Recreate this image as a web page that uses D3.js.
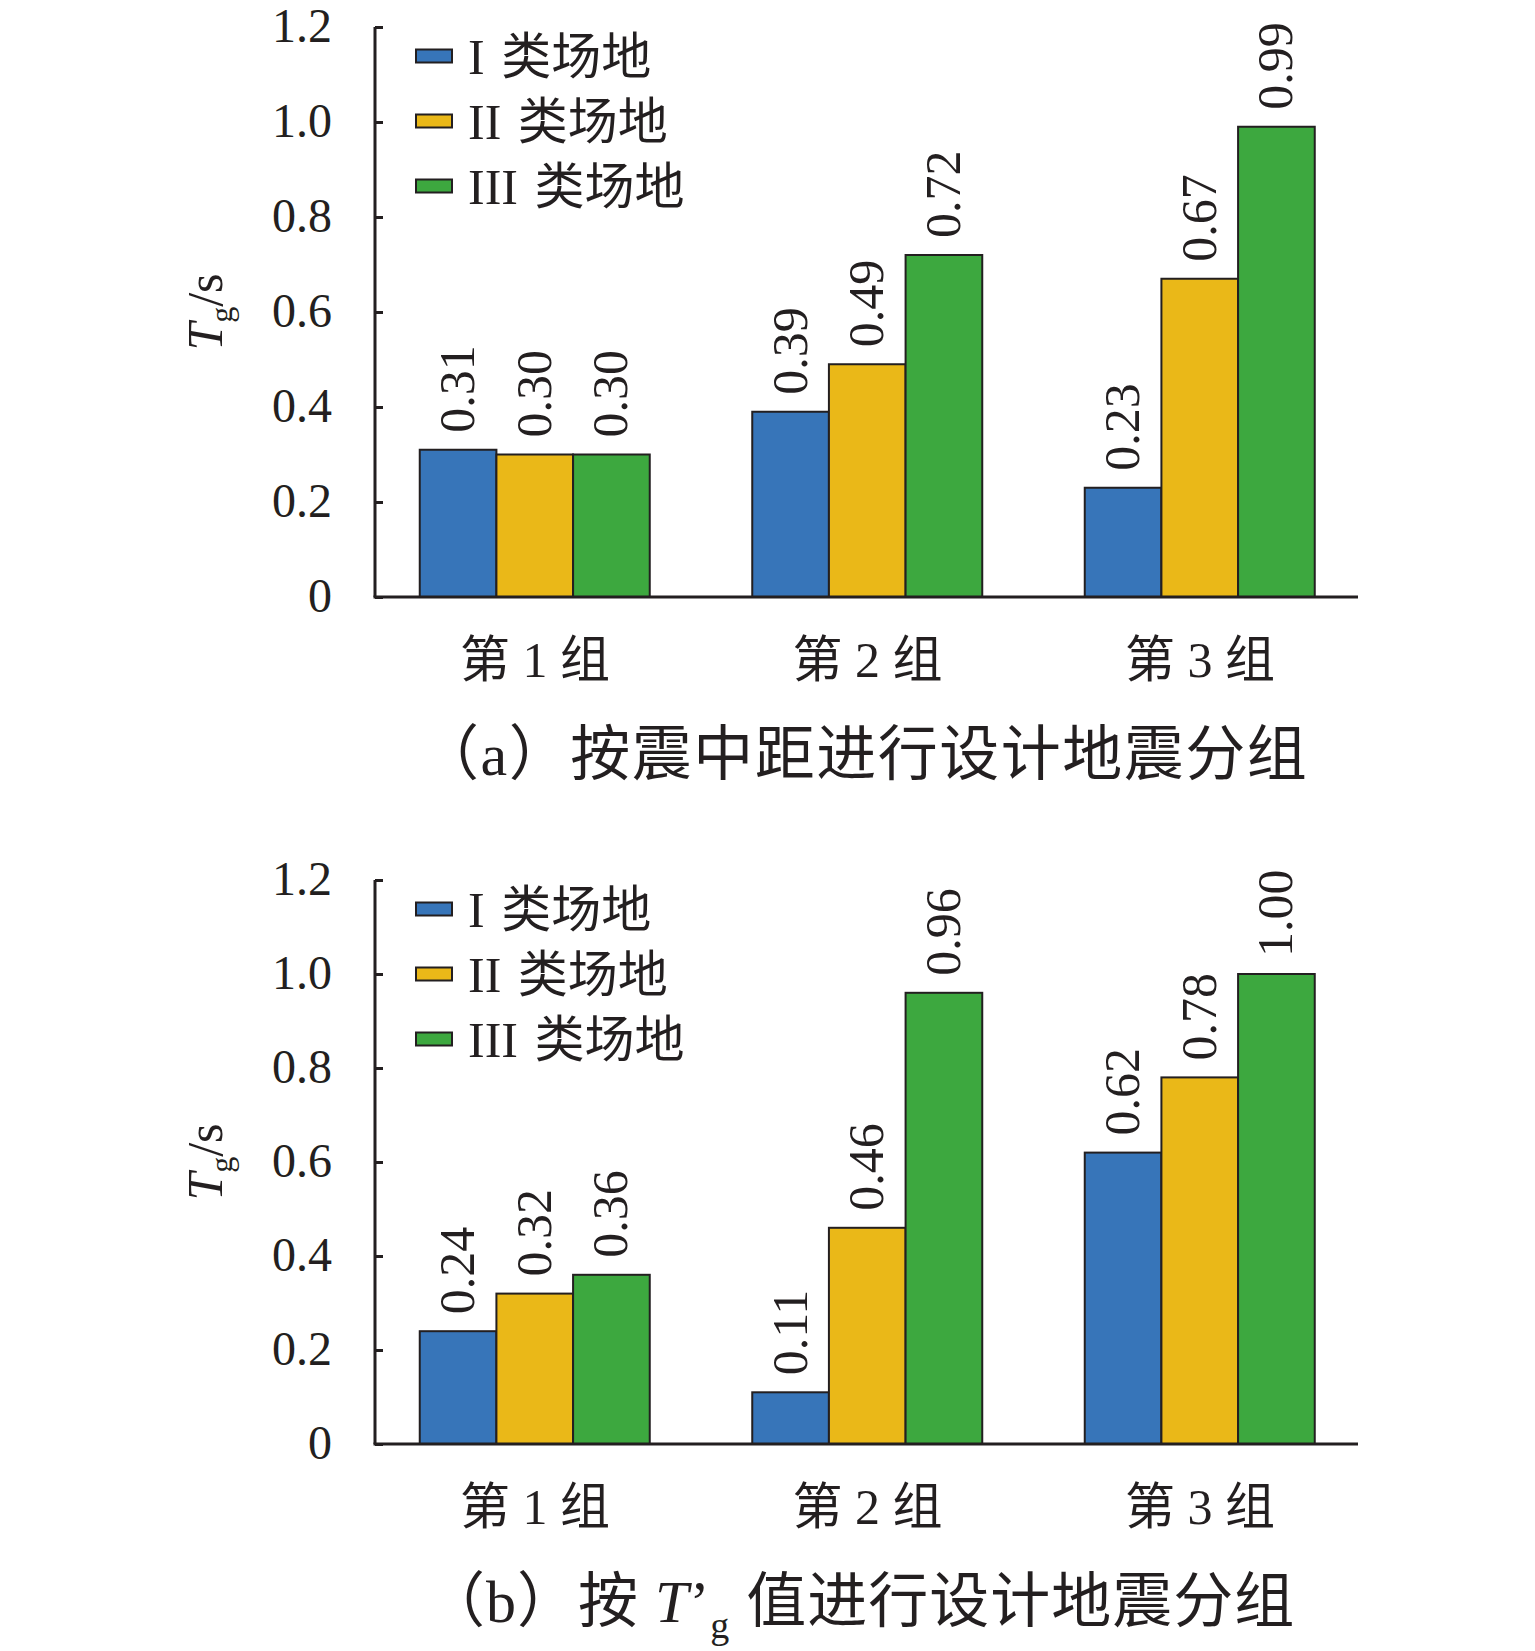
<!DOCTYPE html>
<html>
<head>
<meta charset="utf-8">
<script src="https://cdn.jsdelivr.net/npm/d3@7"></script>
<style>
  body { margin: 0; background: #fff; }
  svg text { font-family: "Liberation Serif", "Noto Sans CJK SC", serif; fill: #231f20; }
</style>
</head>
<body>
<svg id="chart" width="1535" height="1651"></svg>
<script>
'use strict';

// categories & series
const groups = ['第 1 组', '第 2 组', '第 3 组'];
const sites = ['I 类场地', 'II 类场地', 'III 类场地'];
const siteColors = ['#3775b9', '#eab818', '#3da83f'];
const yTicks = [0, 0.2, 0.4, 0.6, 0.8, 1.0, 1.2];

// (a) grouping by epicentral distance
const siteI_a = [0.31, 0.39, 0.23];
const siteII_a = [0.30, 0.49, 0.67];
const siteIII_a = [0.30, 0.72, 0.99];

// (b) grouping by T'g value
const siteI_b = [0.24, 0.11, 0.62];
const siteII_b = [0.32, 0.46, 0.78];
const siteIII_b = [0.36, 0.96, 1.00];

const svg = d3.select('#chart');
const axisX = 375, axisRight = 1358;

function drawPanel(series, yTop, yZero) {
  const g = svg.append('g');

  const y = d3.scaleLinear().domain([0, 1.2]).range([yZero, yTop]);
  const x0 = d3.scaleBand().domain(groups).range([368.75, 1366.25]);
  const x1 = d3.scaleBand().domain(sites).range([51, 281]);

  // rows: one per group
  const rows = groups.map((grp, i) => ({
    grp: grp,
    vals: sites.map((s, k) => ({ site: s, k: k, v: series[k][i] }))
  }));

  const grpSel = g.selectAll('.grp')
    .data(rows)
    .enter().append('g')
      .attr('class', 'grp')
      .attr('transform', d => 'translate(' + x0(d.grp) + ',0)');

  grpSel.selectAll('rect')
    .data(d => d.vals)
    .enter().append('rect')
      .attr('x', d => x1(d.site))
      .attr('y', d => y(d.v))
      .attr('width', x1.bandwidth())
      .attr('height', d => yZero - y(d.v))
      .attr('fill', d => siteColors[d.k])
      .attr('stroke', '#231f20')
      .attr('stroke-width', 2);

  grpSel.selectAll('.val')
    .data(d => d.vals)
    .enter().append('text')
      .attr('class', 'val')
      .attr('transform', d => 'translate(' + (x1(d.site) + x1.bandwidth() / 2) + ',' + (y(d.v) - 17) + ') rotate(-90)')
      .attr('dy', '0.32em')
      .style('font-size', '50px')
      .text(d => d.v.toFixed(2));

  // y axis with inward ticks
  const yAxis = d3.axisRight(y).tickValues(yTicks).tickSize(8).tickFormat('');
  const ya = g.append('g')
    .attr('transform', 'translate(' + axisX + ',0)')
    .call(yAxis);
  ya.select('.domain').remove();
  ya.selectAll('.tick line').attr('stroke', '#231f20').attr('stroke-width', 3);

  g.append('line')
    .attr('x1', axisX).attr('x2', axisX)
    .attr('y1', y(0)).attr('y2', y(1.2))
    .attr('stroke', '#231f20').attr('stroke-width', 3);

  g.selectAll('.ytl')
    .data(yTicks)
    .enter().append('text')
      .attr('class', 'ytl')
      .attr('x', 332)
      .attr('y', d => y(d))
      .attr('dy', '0.32em')
      .attr('text-anchor', 'end')
      .style('font-size', '48px')
      .text(d => d === 0 ? '0' : d.toFixed(1));

  // x baseline
  g.append('line')
    .attr('x1', axisX - 1.5).attr('x2', axisRight)
    .attr('y1', yZero).attr('y2', yZero)
    .attr('stroke', '#231f20').attr('stroke-width', 3);

  g.selectAll('.xtl')
    .data(groups)
    .enter().append('text')
      .attr('class', 'xtl')
      .attr('x', d => x0(d) + x0.bandwidth() / 2)
      .attr('y', yZero + 80)
      .attr('text-anchor', 'middle')
      .style('font-size', '50px')
      .text(d => d);

  // y title  T_g/s
  const yt = g.append('text')
    .attr('transform', 'translate(222,' + ((yTop + yZero) / 2) + ') rotate(-90)')
    .attr('text-anchor', 'middle')
    .style('font-size', '50px');
  yt.append('tspan').style('font-style', 'italic').text('T');
  yt.append('tspan').attr('dy', 10).style('font-size', '32px').text('g');
  yt.append('tspan').attr('dy', -10).text('/s');

  // legend
  const leg = g.selectAll('.leg')
    .data(sites)
    .enter().append('g')
      .attr('class', 'leg')
      .attr('transform', (d, i) => 'translate(416,' + (yTop + 29 + i * 65) + ')');
  leg.append('rect')
    .attr('x', 0).attr('y', -6.5)
    .attr('width', 36).attr('height', 13)
    .attr('fill', (d, i) => siteColors[i])
    .attr('stroke', '#231f20').attr('stroke-width', 2);
  leg.append('text')
    .attr('x', 52)
    .attr('dy', '0.36em')
    .style('font-size', '50px')
    .style('word-spacing', '4px')
    .text(d => d);

  return g;
}

drawPanel([siteI_a, siteII_a, siteIII_a], 27, 597);
drawPanel([siteI_b, siteII_b, siteIII_b], 880, 1444);

// captions
svg.append('text')
  .attr('x', 419).attr('y', 775)
  .style('font-size', '60px')
  .style('letter-spacing', '1.5px')
  .text('（a）按震中距进行设计地震分组');

const capB = svg.append('text')
  .attr('x', 425).attr('y', 1622)
  .style('font-size', '60px')
  .style('letter-spacing', '1px');
capB.append('tspan').text('（b）按 ');
capB.append('tspan').style('font-style', 'italic').text('T');
capB.append('tspan').text('’');
capB.append('tspan').attr('dy', 16).style('font-size', '38px').text('g');
capB.append('tspan').attr('dy', -16).text(' 值进行设计地震分组');
</script>
</body>
</html>
